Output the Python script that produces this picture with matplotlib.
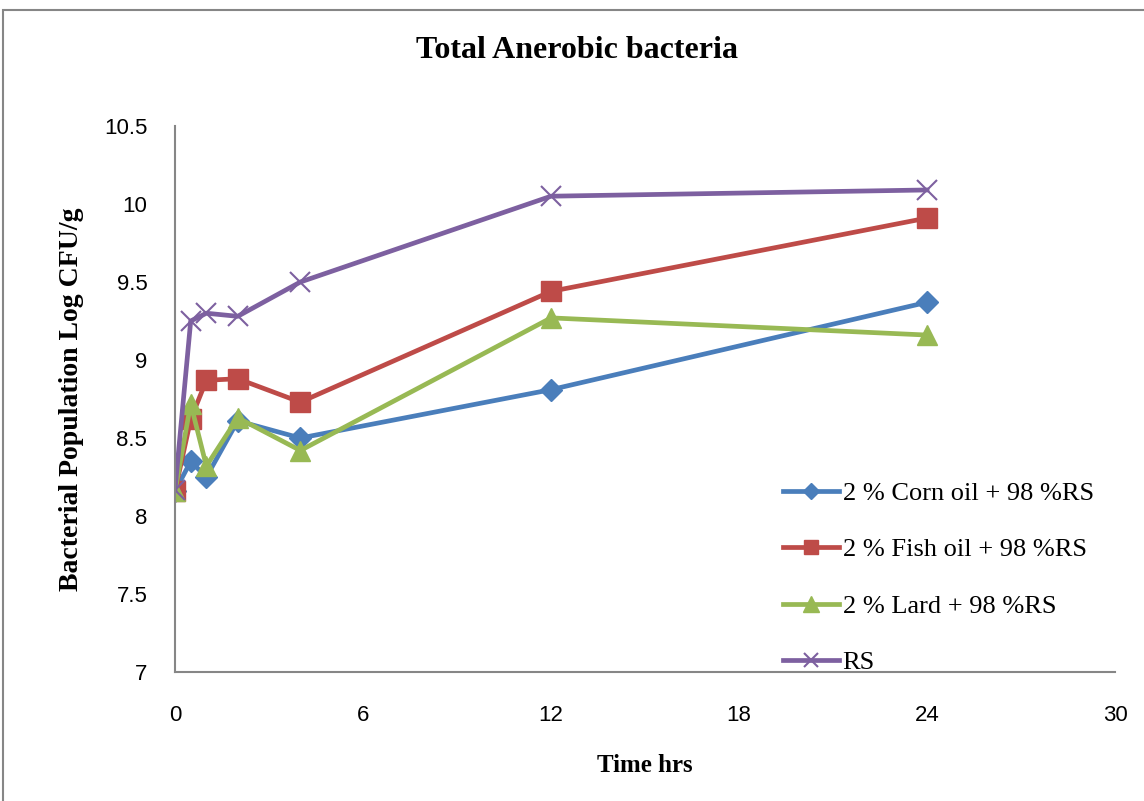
import matplotlib.pyplot as plt
from matplotlib.patches import Rectangle

# Sampling times (hours)
time_hrs = [0, 0.5, 1, 2, 4, 12, 24]

# Bacterial population, log CFU/g
corn_oil = [8.16, 8.35, 8.25, 8.61, 8.50, 8.81, 9.37]
fish_oil = [8.16, 8.62, 8.87, 8.88, 8.73, 9.44, 9.91]
lard = [8.16, 8.72, 8.32, 8.63, 8.42, 9.27, 9.16]
rs_only = [8.17, 9.25, 9.30, 9.28, 9.50, 10.05, 10.09]

labels = ['2 % Corn oil + 98 %RS', '2 % Fish oil + 98 %RS',
          '2 % Lard + 98 %RS', 'RS']

x_ticks = [0, 6, 12, 18, 24, 30]
y_ticks = [7, 7.5, 8, 8.5, 9, 9.5, 10, 10.5]
y_tick_labels = ['7', '7.5', '8', '8.5', '9', '9.5', '10', '10.5']

fig = plt.figure(figsize=(11.44, 8.01), dpi=100)
ax = fig.add_axes([0.153, 0.161, 0.8217, 0.6817])

serif = 'Liberation Serif'

ax.plot(time_hrs, corn_oil, color='#4A7EBB', lw=3.4, marker='D', ms=11, label=labels[0])
ax.plot(time_hrs, fish_oil, color='#BE4B48', lw=3.4, marker='s', ms=14, label=labels[1])
ax.plot(time_hrs, lard, color='#98B954', lw=3.4, marker='^', ms=15, label=labels[2])
ax.plot(time_hrs, rs_only, color='#7D60A0', lw=3.4, marker='x', ms=14, mew=1.5, label=labels[3])

ax.set_xlim(0, 30)
ax.set_ylim(7, 10.5)
ax.set_xticks(x_ticks)
ax.set_yticks(y_ticks)
ax.set_yticklabels(y_tick_labels)
ax.tick_params(labelsize=16, length=0)
ax.tick_params(axis='x', pad=24)
ax.tick_params(axis='y', pad=20)
for lab in ax.get_xticklabels() + ax.get_yticklabels():
    lab.set_fontfamily('Liberation Sans')

for side in ['top', 'right']:
    ax.spines[side].set_visible(False)
for side in ['left', 'bottom']:
    ax.spines[side].set_color('#868686')
    ax.spines[side].set_linewidth(1.5)

fig.text(0.504, 0.937, 'Total Anerobic bacteria', ha='center', va='center',
         fontsize=23, fontweight='bold', family=serif)
ax.set_xlabel('Time hrs', fontsize=18, fontweight='bold', family=serif, labelpad=20)
ax.set_ylabel('Bacterial Population Log CFU/g', fontsize=20, fontweight='bold',
              family=serif, labelpad=14)

ax.legend(loc='lower left', bbox_to_anchor=(0.647, -0.004), frameon=False,
          prop={'family': serif, 'size': 19}, labelspacing=1.25,
          handlelength=2.1, handletextpad=0.15, markerscale=0.75,
          borderpad=0, borderaxespad=0)

# grey frame around the chart area
fig.patches.append(Rectangle((3 / 1144, -0.05), 1.2, 1.05 - 10 / 801, transform=fig.transFigure,
                             fill=False, edgecolor='#868686', lw=1.5))

fig.savefig('out.png', dpi=100)
